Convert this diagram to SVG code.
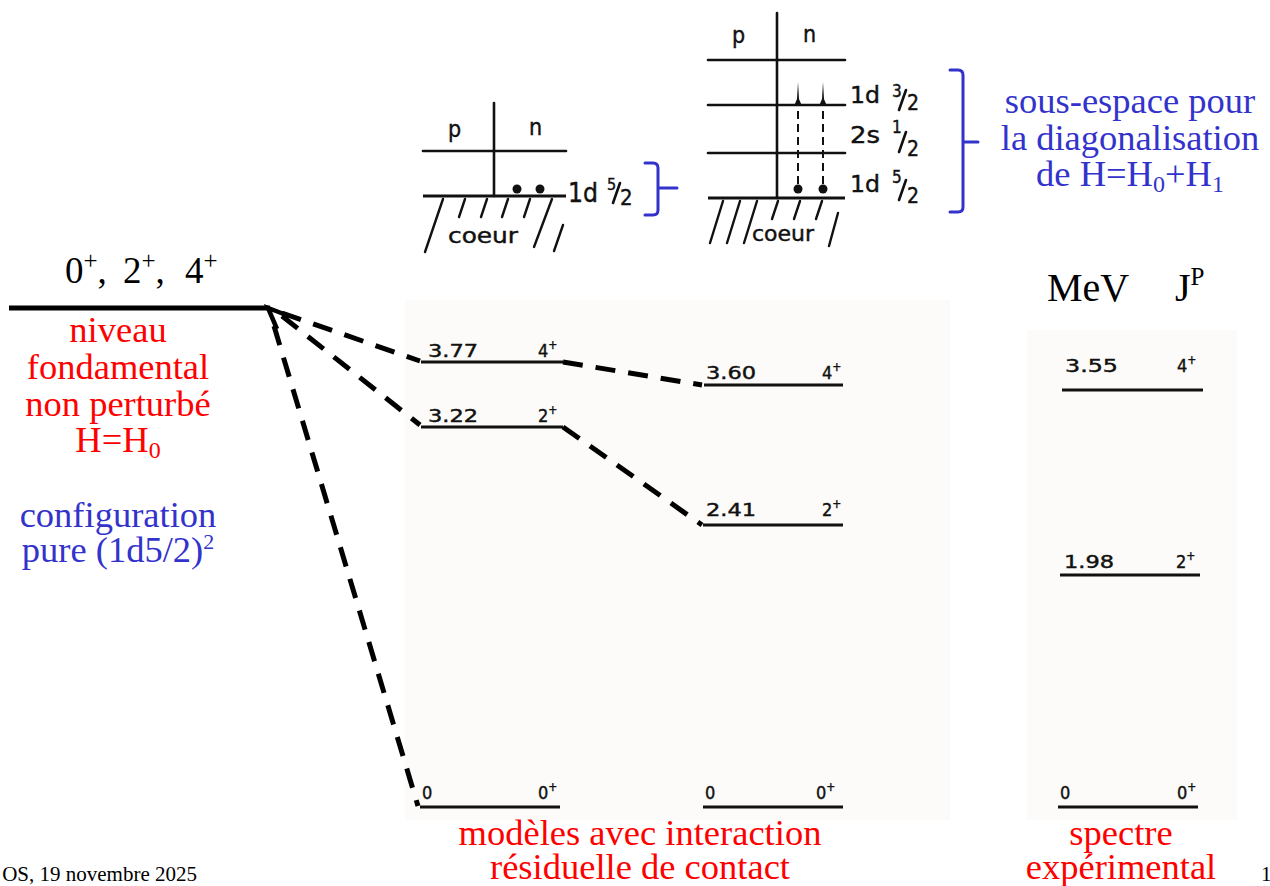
<svg xmlns="http://www.w3.org/2000/svg" width="1270" height="886" viewBox="0 0 1270 886">
<style>
.serif{font-family:"Liberation Serif","Times New Roman",serif}
.red{font-family:"Liberation Serif","Times New Roman",serif;fill:#ff0000;font-size:36.5px;text-anchor:middle}
.blue{font-family:"Liberation Serif","Times New Roman",serif;fill:#3333cc;font-size:36.5px;text-anchor:middle}
.din{font-family:"DejaVu Sans Condensed","DejaVu Sans",sans-serif;fill:#111;stroke:#111;stroke-width:0.4}
.lv{font-family:"DejaVu Sans Condensed","DejaVu Sans",sans-serif;fill:#111;stroke:#111;stroke-width:0.4;font-size:18px}
.lvl{stroke:#111;stroke-width:3.2;fill:none}
.thin{stroke:#111;stroke-width:2.6;fill:none;stroke-linecap:round}
.hatch{stroke:#111;stroke-width:2.4;fill:none;stroke-linecap:round}
.dash{stroke:#000;stroke-width:5;fill:none;stroke-dasharray:20 13}
.br{stroke:#3333cc;stroke-width:3;fill:none;stroke-linecap:round;stroke-linejoin:round}
</style>
<rect width="1270" height="886" fill="#ffffff"/>
<rect x="405" y="300" width="545" height="520" fill="#fcfbf9"/>
<rect x="1027" y="330" width="210" height="490" fill="#fcfbf9"/>

<!-- top-left diagram: pure configuration -->
<g id="config-pure">
  <line class="thin" x1="494" y1="103" x2="494" y2="196"/>
  <line class="thin" x1="423" y1="151" x2="566" y2="151"/>
  <line class="lvl" x1="423" y1="196" x2="566" y2="196"/>
  <circle cx="517" cy="189" r="4.5" fill="#111"/>
  <circle cx="540" cy="189" r="4.5" fill="#111"/>
  <text class="din" x="448" y="137" font-size="23">p</text>
  <text class="din" x="529" y="135" font-size="23">n</text>
  <text class="din" x="568" y="202" font-size="26" textLength="30" lengthAdjust="spacingAndGlyphs">1d</text>
  <text class="din" x="607" y="190" font-size="16">5</text>
  <line class="thin" x1="613" y1="203" x2="620" y2="183" stroke-width="2"/>
  <text class="din" x="620" y="205" font-size="22">2</text>
  <line class="hatch" x1="443" y1="199" x2="425" y2="252"/>
  <line class="hatch" x1="465" y1="199" x2="459" y2="217"/>
  <line class="hatch" x1="487" y1="199" x2="481" y2="217"/>
  <line class="hatch" x1="508" y1="199" x2="502" y2="217"/>
  <line class="hatch" x1="530" y1="199" x2="524" y2="217"/>
  <line class="hatch" x1="552" y1="199" x2="534" y2="247"/>
  <line class="hatch" x1="563" y1="225" x2="554" y2="251"/>
  <text class="din" x="448" y="243" font-size="21" textLength="70" lengthAdjust="spacingAndGlyphs">coeur</text>
</g>

<!-- top-middle diagram: sub-space -->
<g id="config-sousespace">
  <line class="thin" x1="777" y1="13" x2="777" y2="198"/>
  <line class="thin" x1="708" y1="60" x2="845" y2="60"/>
  <line class="thin" x1="708" y1="105" x2="845" y2="105"/>
  <line class="thin" x1="708" y1="153" x2="845" y2="153"/>
  <line class="lvl" x1="708" y1="198" x2="845" y2="198"/>
  <polygon points="794,106 797,99 798,82 799,99 802,106" fill="#111"/>
  <polygon points="819,106 822,99 823,82 824,99 827,106" fill="#111"/>
  <line x1="798" y1="184" x2="798" y2="109" stroke="#111" stroke-width="2" stroke-dasharray="8 5"/>
  <line x1="823" y1="184" x2="823" y2="109" stroke="#111" stroke-width="2" stroke-dasharray="8 5"/>
  <circle cx="798" cy="189" r="4.5" fill="#111"/>
  <circle cx="823" cy="189" r="4.5" fill="#111"/>
  <text class="din" x="732" y="43" font-size="23">p</text>
  <text class="din" x="803" y="42" font-size="23">n</text>
  <text class="din" x="850" y="103" font-size="23" textLength="30" lengthAdjust="spacingAndGlyphs">1d</text>
  <text class="din" x="892" y="97" font-size="17">3</text>
  <line class="thin" x1="899" y1="110" x2="906" y2="90" stroke-width="2"/>
  <text class="din" x="907" y="110" font-size="21">2</text>
  <text class="din" x="850" y="143" font-size="23" textLength="30" lengthAdjust="spacingAndGlyphs">2s</text>
  <text class="din" x="892" y="133" font-size="17">1</text>
  <line class="thin" x1="899" y1="152" x2="906" y2="132" stroke-width="2"/>
  <text class="din" x="907" y="156" font-size="21">2</text>
  <text class="din" x="850" y="192" font-size="23" textLength="30" lengthAdjust="spacingAndGlyphs">1d</text>
  <text class="din" x="892" y="183" font-size="17">5</text>
  <line class="thin" x1="899" y1="200" x2="906" y2="180" stroke-width="2"/>
  <text class="din" x="907" y="203" font-size="21">2</text>
  <line class="hatch" x1="723" y1="201" x2="710" y2="243"/>
  <line class="hatch" x1="740" y1="201" x2="727" y2="243"/>
  <line class="hatch" x1="757" y1="201" x2="744" y2="243"/>
  <line class="hatch" x1="778" y1="201" x2="772" y2="219"/>
  <line class="hatch" x1="800" y1="201" x2="794" y2="219"/>
  <line class="hatch" x1="822" y1="201" x2="816" y2="219"/>
  <line class="hatch" x1="838" y1="213" x2="829" y2="246"/>
  <text class="din" x="752" y="241" font-size="21" textLength="62" lengthAdjust="spacingAndGlyphs">coeur</text>
</g>

<!-- braces -->
<g id="brace-1">
  <path class="br" d="M645,163 H653 Q658,163 658,168 V188 H677 M658,188 V210 Q658,215 653,215 H645"/>
</g>
<g id="brace-2">
  <path class="br" d="M950,70 H958 Q963,70 963,75 V142 H978 M963,142 V207 Q963,212 958,212 H950"/>
  <text class="blue" x="1130" y="113">sous-espace pour</text>
  <text class="blue" x="1130" y="150">la diagonalisation</text>
  <text class="blue" x="1130" y="186">de H=H<tspan font-size="24" dy="6">0</tspan><tspan dy="-6">+H</tspan><tspan font-size="24" dy="6">1</tspan></text>
</g>

<!-- unperturbed level -->
<g id="niveau-fondamental">
  <line x1="9" y1="308" x2="270" y2="308" stroke="#000" stroke-width="5"/>
  <text class="serif" x="65" y="283" font-size="37">0<tspan font-size="25" dy="-14">+</tspan><tspan dy="14">,</tspan><tspan x="123">2</tspan><tspan font-size="25" dy="-14">+</tspan><tspan dy="14">,</tspan><tspan x="185">4</tspan><tspan font-size="25" dy="-14">+</tspan></text>
  <text class="red" x="118" y="342">niveau</text>
  <text class="red" x="118" y="379">fondamental</text>
  <text class="red" x="118" y="416">non perturbé</text>
  <text class="red" x="118" y="452">H=H<tspan font-size="24" dy="6">0</tspan></text>
  <text class="blue" x="118" y="527">configuration</text>
  <text class="blue" x="118" y="562">pure (1d5/2)<tspan font-size="22" dy="-13">2</tspan></text>
</g>

<!-- model column 1 -->
<g id="col-modele-1">
  <line class="lvl" x1="421" y1="362" x2="563" y2="362"/>
  <text class="lv" x="428" y="357" textLength="50" lengthAdjust="spacingAndGlyphs">3.77</text>
  <text class="lv" x="538" y="357">4<tspan font-size="12" dy="-8">+</tspan></text>
  <line class="lvl" x1="421" y1="427" x2="563" y2="427"/>
  <text class="lv" x="428" y="422" textLength="50" lengthAdjust="spacingAndGlyphs">3.22</text>
  <text class="lv" x="538" y="422">2<tspan font-size="12" dy="-8">+</tspan></text>
  <line class="lvl" x1="420" y1="807" x2="560" y2="807"/>
  <text class="lv" x="422" y="799">0</text>
  <text class="lv" x="538" y="799">0<tspan font-size="12" dy="-8">+</tspan></text>
</g>

<!-- model column 2 -->
<g id="col-modele-2">
  <line class="lvl" x1="704" y1="385" x2="843" y2="385"/>
  <text class="lv" x="706" y="379" textLength="50" lengthAdjust="spacingAndGlyphs">3.60</text>
  <text class="lv" x="822" y="379">4<tspan font-size="12" dy="-8">+</tspan></text>
  <line class="lvl" x1="703" y1="525" x2="843" y2="525"/>
  <text class="lv" x="706" y="516" textLength="50" lengthAdjust="spacingAndGlyphs">2.41</text>
  <text class="lv" x="822" y="516">2<tspan font-size="12" dy="-8">+</tspan></text>
  <line class="lvl" x1="703" y1="807" x2="843" y2="807"/>
  <text class="lv" x="705" y="799">0</text>
  <text class="lv" x="816" y="799">0<tspan font-size="12" dy="-8">+</tspan></text>
</g>

<!-- experimental column -->
<g id="col-experience">
  <text class="serif" x="1047" y="301" font-size="40">MeV</text>
  <text class="serif" x="1175" y="301" font-size="40">J<tspan font-size="25" dy="-16">P</tspan></text>
  <line class="lvl" x1="1062" y1="390" x2="1203" y2="390"/>
  <text class="lv" x="1065" y="372" textLength="53" lengthAdjust="spacingAndGlyphs">3.55</text>
  <text class="lv" x="1177" y="372">4<tspan font-size="12" dy="-8">+</tspan></text>
  <line class="lvl" x1="1060" y1="575" x2="1200" y2="575"/>
  <text class="lv" x="1064" y="568" textLength="50" lengthAdjust="spacingAndGlyphs">1.98</text>
  <text class="lv" x="1176" y="568">2<tspan font-size="12" dy="-8">+</tspan></text>
  <line class="lvl" x1="1058" y1="807" x2="1198" y2="807"/>
  <text class="lv" x="1060" y="799">0</text>
  <text class="lv" x="1177" y="799">0<tspan font-size="12" dy="-8">+</tspan></text>
</g>

<!-- connectors -->
<g id="connectors">
  <path class="dash" d="M282,313 L420,361"/>
  <path class="dash" d="M282,316 L420,425"/>
  <path class="dash" d="M274,326 L418,806"/>
  <path class="dash" d="M563,362 L702,385"/>
  <path class="dash" d="M563,427 L702,525"/>
  <polyline points="289,316 268,308 277,329" fill="none" stroke="#000" stroke-width="4.5" stroke-linejoin="miter"/>
</g>

<!-- captions -->
<g id="captions">
  <text class="red" x="640" y="845">modèles avec interaction</text>
  <text class="red" x="640" y="879">résiduelle de contact</text>
  <text class="red" x="1121" y="845">spectre</text>
  <text class="red" x="1121" y="879">expérimental</text>
  <text class="serif" x="197" y="881" font-size="21" text-anchor="end">OS, 19 novembre 2025</text>
  <text class="serif" x="1261" y="881" font-size="21">1</text>
</g>
</svg>
